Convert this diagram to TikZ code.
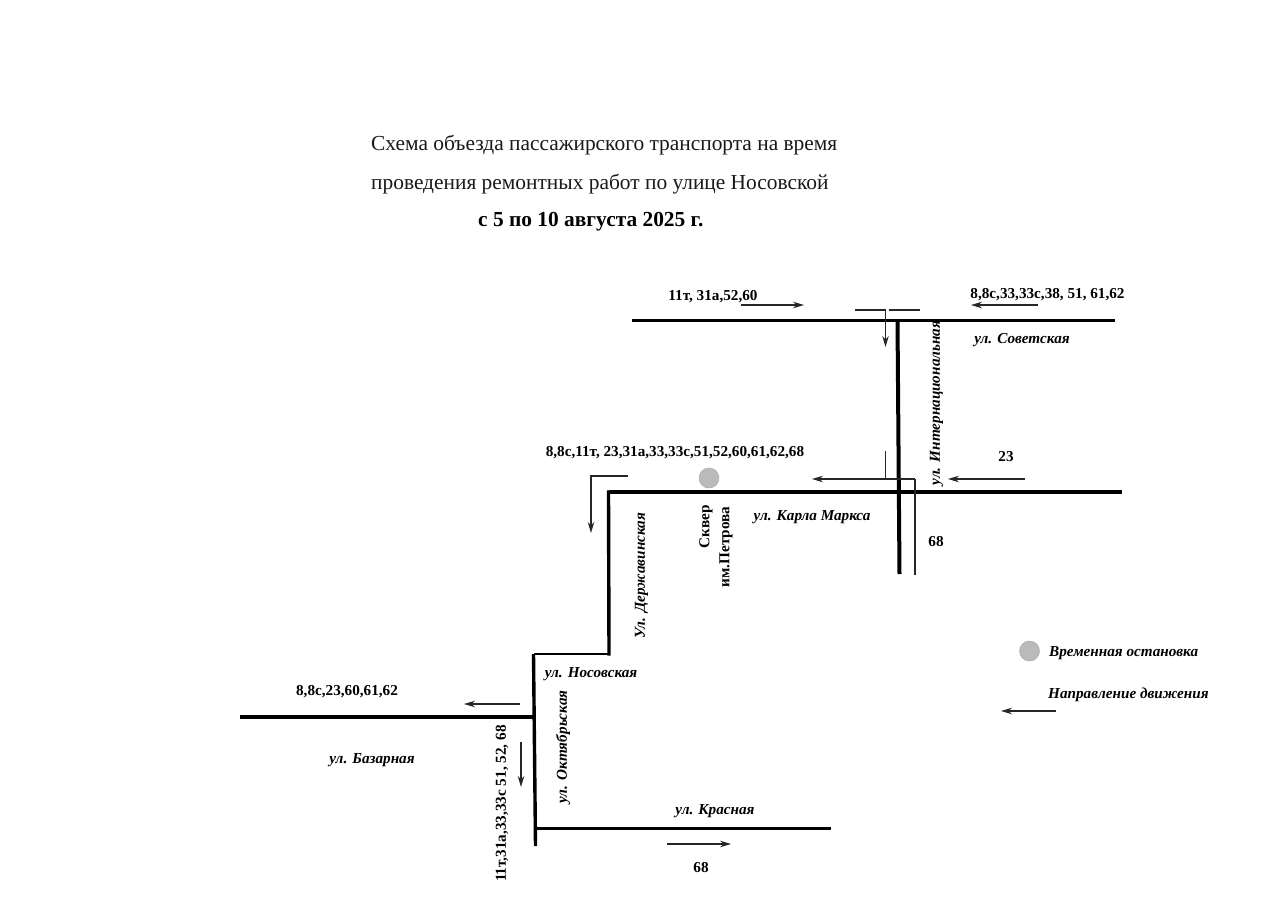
\documentclass[tikz,border=0pt]{standalone}
\usepackage{fontspec}
\setmainfont{Liberation Serif}
\usetikzlibrary{arrows.meta}
\tikzset{
  road/.style={line width=3.4pt,black},
  roadthin/.style={line width=2.8pt,black},
  thin line/.style={line width=1.2pt,black!85},
  route/.style={line width=1.2pt,black!85,-{Stealth[length=11pt,width=6.5pt]}},
  title/.style={inner sep=0pt,anchor=west,font=\fontsize{21.4}{24}\selectfont,black!90},
  lab/.style={inner sep=0pt,font=\fontsize{15.2}{16}\selectfont\bfseries,black},
  street/.style={inner sep=0pt,font=\fontsize{15.2}{16}\selectfont\bfseries\itshape,black},
  stop/.style={circle,draw=black!32,fill=black!27,line width=.5pt,minimum size=20pt,inner sep=0pt}
}
\begin{document}
\begin{tikzpicture}[x=1pt,y=-1pt]
\useasboundingbox (0,0) rectangle (1280,905);
\fill[white] (0,0) rectangle (1280,905);
% title
\node[title] (t1) at (371,145) {Схема объезда пассажирского транспорта на время};
\node[title] (t2) at (371,184) {проведения ремонтных работ по улице Носовской};
\node[title,font=\fontsize{21.4}{24}\selectfont\bfseries,black] (t3) at (478,222) {с 5 по 10 августа 2025 г.};
% road points
\coordinate (sovW) at (632,320.5);
\coordinate (sovE) at (1115,320.5);
\coordinate (intT) at (897.5,320.5);
\coordinate (intB) at (899.5,574);
\coordinate (kmE) at (1122,492);
\coordinate (kmW) at (608.5,492);
\coordinate (derB) at (609,654);
\coordinate (nosW) at (533.5,654);
\coordinate (bazW) at (240,717);
\coordinate (bazE) at (534,717);
\coordinate (octB) at (535.5,846);
\coordinate (krW) at (535,828.5);
\coordinate (krE) at (831,828.5);
% roads
\draw[road] (sovW) -- (sovE);
\draw[road,line width=4pt] (intT) -- (intB);
\draw[road] (kmE) -- (kmW);
\draw[road,line cap=rect] (kmW) -- (derB);
\draw[roadthin] (derB) -- (nosW);
\draw[road] (nosW) -- (octB);
\draw[road] (bazW) -- (bazE);
\draw[road] (krW) -- (krE);
% route arrows
\coordinate (a1s) at (741,305); \coordinate (a1e) at (804,305);
\coordinate (a2s) at (1038,305); \coordinate (a2e) at (971,305);
\draw[route] (a1s) -- (a1e);
\draw[route] (a2s) -- (a2e);
\coordinate (b1) at (855,310); \coordinate (b2) at (885.5,310); \coordinate (b3) at (888.5,310); \coordinate (b4) at (920,310); \coordinate (b5) at (885.5,347);
\draw[thin line] (b1) -- (b2);
\draw[thin line] (b3) -- (b4);
\draw[route] (b2) -- (b5);
\coordinate (c1) at (885.5,451); \coordinate (c2) at (885.5,479); \coordinate (c3) at (915,479); \coordinate (c4) at (812,479); \coordinate (c5) at (915,575);
\draw[thin line] (c1) -- (c2);
\draw[route] (c3) -- (c4);
\draw[thin line] (c3) -- (c5);
\coordinate (d1) at (1025,479); \coordinate (d2) at (948,479);
\draw[route] (d1) -- (d2);
\coordinate (e1) at (628,476); \coordinate (e2) at (591,476); \coordinate (e3) at (591,533);
\draw[route] (e1) -- (e2) -- (e3);
\coordinate (f1) at (520,704); \coordinate (f2) at (464,704);
\draw[route] (f1) -- (f2);
\coordinate (g1) at (521,742); \coordinate (g2) at (521,787);
\draw[route] (g1) -- (g2);
\coordinate (h1) at (667,844); \coordinate (h2) at (731,844);
\draw[route] (h1) -- (h2);
\coordinate (i1) at (1056,711); \coordinate (i2) at (1001,711);
\draw[route] (i1) -- (i2);
% stops
\node[stop] (s1) at (709,478) {};
\node[stop] (s2) at (1029.5,651) {};
% labels
\node[lab] (l1) at (713,296.5) {11т, 31а,52,60};
\node[lab] (l2) at (1047.5,294.5) {8,8с,33,33с,38, 51, 61,62};
\node[lab] (l3) at (675,452.5) {8,8с,11т, 23,31а,33,33с,51,52,60,61,62,68};
\node[lab] (l4) at (1006,457) {23};
\node[lab] (l5) at (936,542) {68};
\node[lab] (l6) at (347,691.5) {8,8с,23,60,61,62};
\node[lab,rotate=90] (l7) at (502,803.5) {11т,31а,33,33с 51, 52, 68};
\node[lab] (l8) at (701,867.5) {68};
\node[lab,rotate=90] (l9) at (706,527) {Сквер};
\node[lab,rotate=90] (l10) at (726,547) {им.Петрова};
% street names
\node[street] (n1) at (1022,340) {ул. Советская};
\node[street,rotate=90] (n2) at (936.5,403) {ул. Интернациональная};
\node[street] (n3) at (812,517) {ул. Карла Маркса};
\node[street,rotate=90] (n4) at (641.5,576) {Ул. Державинская};
\node[street] (n5) at (591,674) {ул. Носовская};
\node[street,rotate=90] (n6) at (563,747) {ул. Октябрьская};
\node[street] (n7) at (372,760) {ул. Базарная};
\node[street] (n8) at (715,811) {ул. Красная};
\node[street,anchor=west] (n9) at (1049,653) {Временная остановка};
\node[street,anchor=west] (n10) at (1048,695) {Направление движения};
\end{tikzpicture}
\end{document}
